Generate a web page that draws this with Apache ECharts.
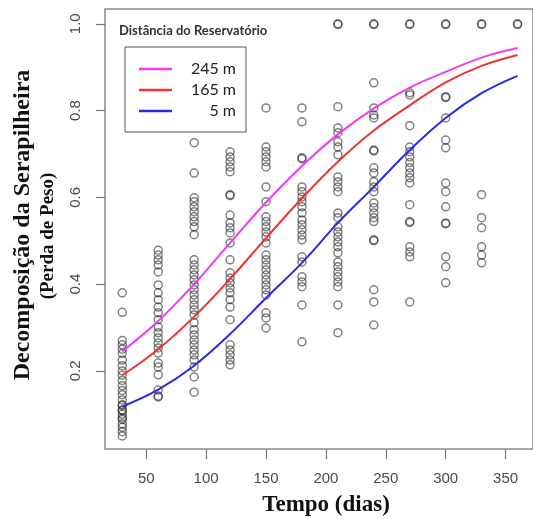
<!DOCTYPE html>
<html>
<head>
<meta charset="utf-8">
<script src="https://cdn.jsdelivr.net/npm/echarts@6/dist/echarts.min.js"></script>
<style>html,body{margin:0;padding:0;background:#fff}#c{width:533px;height:519px}</style>
</head>
<body>
<div id="c"></div>
<script>
// ---- data ----
const curveDays = [30, 60, 90, 120, 150, 180, 210, 240, 270, 300, 330, 360];
const curve245 = [0.245, 0.315, 0.400, 0.495, 0.588, 0.672, 0.745, 0.805, 0.853, 0.889, 0.922, 0.944];
const curve165 = [0.190, 0.250, 0.325, 0.412, 0.506, 0.598, 0.682, 0.754, 0.812, 0.865, 0.903, 0.928];
const curve5   = [0.118, 0.157, 0.212, 0.285, 0.368, 0.449, 0.541, 0.624, 0.709, 0.783, 0.840, 0.880];
const seriesNames = ['245 m', '165 m', '5 m'];

const obs30  = [0.380, 0.335, 0.270, 0.260, 0.250, 0.240, 0.225, 0.212, 0.200, 0.190, 0.178, 0.166, 0.155, 0.145, 0.133, 0.122, 0.120, 0.110, 0.108, 0.100, 0.092, 0.088, 0.078, 0.070, 0.060, 0.050];
const obs60  = [0.478, 0.467, 0.456, 0.444, 0.428, 0.398, 0.380, 0.364, 0.347, 0.334, 0.318, 0.301, 0.288, 0.276, 0.264, 0.253, 0.241, 0.218, 0.209, 0.191, 0.156, 0.142, 0.140];
const obs90  = [0.726, 0.656, 0.599, 0.590, 0.578, 0.567, 0.555, 0.544, 0.532, 0.514, 0.456, 0.444, 0.433, 0.421, 0.410, 0.398, 0.387, 0.375, 0.364, 0.352, 0.341, 0.329, 0.311, 0.295, 0.283, 0.271, 0.260, 0.248, 0.237, 0.225, 0.209, 0.186, 0.151];
const obs120 = [0.705, 0.693, 0.682, 0.670, 0.659, 0.606, 0.604, 0.559, 0.541, 0.530, 0.518, 0.495, 0.456, 0.426, 0.414, 0.403, 0.391, 0.380, 0.364, 0.347, 0.318, 0.260, 0.248, 0.237, 0.225, 0.214];
const obs150 = [0.806, 0.716, 0.705, 0.693, 0.682, 0.670, 0.624, 0.590, 0.555, 0.544, 0.532, 0.520, 0.509, 0.495, 0.467, 0.456, 0.444, 0.433, 0.421, 0.410, 0.398, 0.387, 0.375, 0.334, 0.322, 0.299];
const obs180 = [0.806, 0.774, 0.691, 0.689, 0.624, 0.613, 0.601, 0.590, 0.578, 0.564, 0.548, 0.537, 0.525, 0.513, 0.502, 0.463, 0.451, 0.417, 0.405, 0.394, 0.352, 0.267];
const obs210 = [1.000, 0.998, 0.809, 0.760, 0.749, 0.728, 0.716, 0.698, 0.647, 0.636, 0.624, 0.613, 0.564, 0.553, 0.532, 0.520, 0.509, 0.497, 0.486, 0.472, 0.451, 0.440, 0.428, 0.417, 0.405, 0.394, 0.352, 0.288];
const obs240 = [1.000, 0.998, 0.864, 0.806, 0.790, 0.783, 0.709, 0.707, 0.668, 0.656, 0.636, 0.624, 0.613, 0.587, 0.576, 0.564, 0.553, 0.544, 0.502, 0.500, 0.387, 0.359, 0.306];
const obs270 = [1.000, 0.998, 0.841, 0.836, 0.765, 0.716, 0.705, 0.693, 0.680, 0.668, 0.656, 0.645, 0.633, 0.583, 0.544, 0.542, 0.486, 0.474, 0.463, 0.359];
const obs300 = [1.000, 0.998, 0.832, 0.830, 0.783, 0.732, 0.714, 0.633, 0.613, 0.578, 0.541, 0.539, 0.463, 0.440, 0.403];
const obs330 = [1.000, 0.998, 0.606, 0.553, 0.530, 0.486, 0.467, 0.449];
const obs360 = [1.000, 0.998];
const obsDays = [30, 60, 90, 120, 150, 180, 210, 240, 270, 300, 330, 360];
const obsCols = [obs30, obs60, obs90, obs120, obs150, obs180, obs210, obs240, obs270, obs300, obs330, obs360];

const xTicks = [50, 100, 150, 200, 250, 300, 350];
const yTicks = [0.2, 0.4, 0.6, 0.8, 1.0];

// ---- build ----
const points = [];
obsCols.forEach((col, i) => col.forEach(v => points.push([obsDays[i], v])));
const pair = arr => curveDays.map((d, i) => [d, arr[i]]);
const lineColors = ['#ee3cee', '#ec3434', '#2a2ae0'];
const curves = [curve245, curve165, curve5];

const chart = echarts.init(document.getElementById('c'), null, {renderer: 'canvas'});
chart.setOption({
  animation: false,
  backgroundColor: '#fff',
  grid: {left: 105, top: 9, right: -8, bottom: 70, show: true, borderColor: '#8a8a8a', borderWidth: 1.5, backgroundColor: 'transparent'},
  xAxis: {
    type: 'value', min: 15.57, max: 372.9,
    axisLine: {show: false},
    splitLine: {show: false},
    axisTick: {show: true, length: 10, lineStyle: {color: '#777', width: 1.2}, customValues: xTicks},
    axisLabel: {customValues: xTicks, color: '#4a4a4a', fontSize: 15, fontFamily: 'Liberation Sans', margin: 22}
  },
  yAxis: {
    type: 'value', min: 0.02, max: 1.034,
    axisLine: {show: false},
    splitLine: {show: false},
    axisTick: {show: true, length: 9, lineStyle: {color: '#777', width: 1.2}, customValues: yTicks},
    axisLabel: {customValues: yTicks, rotate: 90, color: '#4a4a4a', fontSize: 15, fontFamily: 'Liberation Sans', margin: 22,
      formatter: v => v.toFixed(1)}
  },
  legend: {
    orient: 'vertical', left: 125, top: 47,
    data: seriesNames.map(n => ({name: n, icon: 'rect'})),
    itemWidth: 33, itemHeight: 2.5, itemGap: 5,
    padding: [14, 10, 13, 14],
    borderColor: '#555', borderWidth: 1, backgroundColor: '#fff',
    formatter: n => '{r|' + n + '}',
    textStyle: {rich: {r: {width: 59, align: 'right', fontSize: 16, lineHeight: 16, fontFamily: 'Lato', color: '#222'}}}
  },
  series: [
    {
      type: 'scatter', name: 'obs', data: points, symbol: 'circle', symbolSize: 8, z: 2,
      itemStyle: {color: 'rgba(0,0,0,0)', borderColor: 'rgba(25,25,25,0.68)', borderWidth: 1.5},
      emphasis: {disabled: true}
    }
  ].concat(seriesNames.map((n, i) => ({
    type: 'line', name: n, data: pair(curves[i]), smooth: 0.4, showSymbol: false, z: 5,
    lineStyle: {color: lineColors[i], width: 2}, itemStyle: {color: lineColors[i]}
  }))),
  graphic: [
    {type: 'text', x: 119, y: 31, style: {text: 'Distância do Reservatório', font: 'bold 13px Lato', fill: '#333', align: 'left', verticalAlign: 'middle'}},
    {type: 'text', x: 23, y: 225, rotation: Math.PI / 2, style: {text: 'Decomposição da Serapilheira', font: 'bold 24px "Liberation Serif"', fill: '#111', align: 'center', verticalAlign: 'middle'}},
    {type: 'text', x: 48, y: 236, rotation: Math.PI / 2, style: {text: '(Perda de Peso)', font: 'bold 19px "Liberation Serif"', fill: '#111', align: 'center', verticalAlign: 'middle'}},
    {type: 'text', x: 326, y: 505, style: {text: 'Tempo (dias)', font: 'bold 23px "Liberation Serif"', fill: '#111', align: 'center', verticalAlign: 'middle'}}
  ]
});
</script>
</body>
</html>
